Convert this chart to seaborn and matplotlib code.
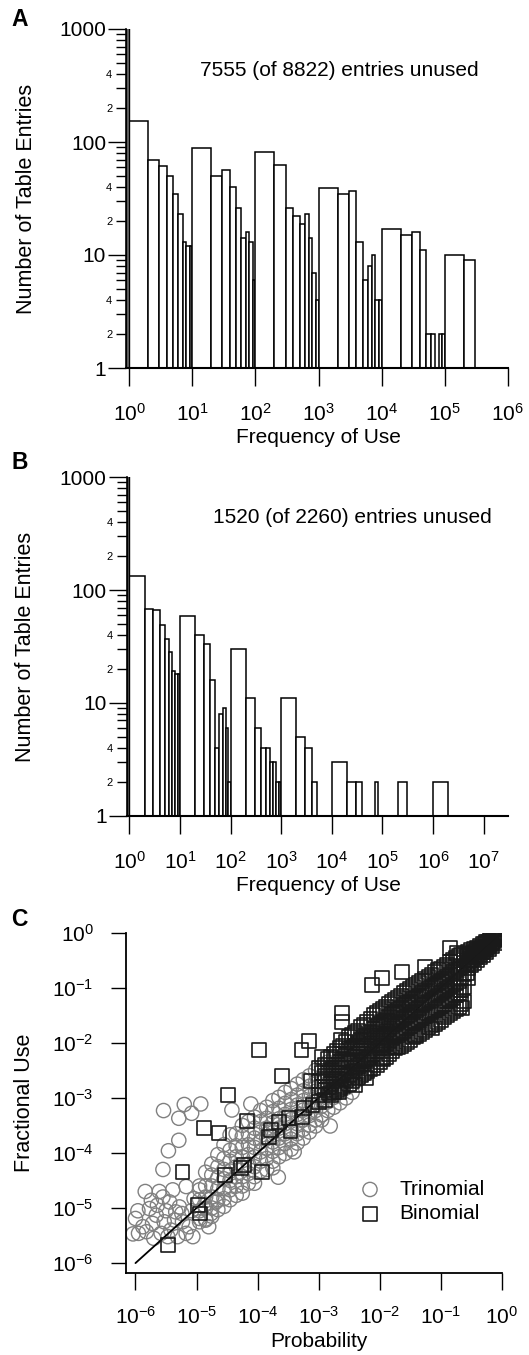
import numpy as np
import pandas as pd
import matplotlib
matplotlib.use("Agg")
import matplotlib.pyplot as plt
import seaborn as sns

sns.set_theme(style="ticks")
plt.rcParams['font.family'] = ['Liberation Sans', 'DejaVu Sans']
plt.rcParams['mathtext.fontset'] = 'custom'
plt.rcParams['mathtext.rm'] = 'Liberation Sans'
plt.rcParams['mathtext.it'] = 'Liberation Sans:italic'
plt.rcParams['mathtext.bf'] = 'Liberation Sans:bold'
plt.rcParams['mathtext.sf'] = 'Liberation Sans'
for k in ['axes.edgecolor', 'xtick.color', 'ytick.color', 'text.color', 'axes.labelcolor']:
    plt.rcParams[k] = 'black'

# ---------------- data ----------------
# each decade is split into linear sub-bins starting at 1..9 x 10^d
sub_bin_starts = [1, 2, 3, 4, 5, 6, 7, 8, 9]

panel_a_counts = [
    154, 69, 61, 50, 35, 23, 13, 12, 12,    # 1 - 10
    89, 50, 56, 40, 26, 14, 16, 13, 6,      # 10 - 1e2
    81, 62, 26, 22, 19, 23, 14, 7, 4,       # 1e2 - 1e3
    39, 35, 37, 13, 6, 8, 10, 4, 4,         # 1e3 - 1e4
    17, 15, 16, 11, 2, 2, 0, 2, 2,          # 1e4 - 1e5
    10, 9, 0, 0, 0, 0, 0, 0, 0,             # 1e5 - 1e6
]
panel_a_unused = 7555
panel_a_total = 8822

panel_b_counts = [
    132, 68, 66, 49, 37, 28, 19, 18, 18,    # 1 - 10
    59, 40, 33, 16, 4, 8, 9, 6, 2,          # 10 - 1e2
    30, 11, 6, 4, 4, 3, 3, 2, 2,            # 1e2 - 1e3
    11, 5, 4, 2, 0, 0, 1, 1, 1,             # 1e3 - 1e4
    3, 2, 2, 0, 1, 1, 2, 0, 1,              # 1e4 - 1e5
    0, 2, 1, 1, 0, 1, 1, 1, 1,              # 1e5 - 1e6
    2, 0, 1, 0, 0, 1, 1, 1, 1,              # 1e6 - 1e7
]
panel_b_unused = 1520
panel_b_total = 2260

hist_y_major = [1, 10, 100, 1000]
hist_y_major_labels = ['1', '10', '100', '1000']
hist_y_minor_label_text = ['2', '', '4', '', '', '', '', '']   # labels for 2..9 in each decade

a_x_exponents = [0, 1, 2, 3, 4, 5, 6]
a_xtick_labels = ['$10^{0}$', '$10^{1}$', '$10^{2}$', '$10^{3}$', '$10^{4}$', '$10^{5}$', '$10^{6}$']
b_x_exponents = [0, 1, 2, 3, 4, 5, 6, 7]
b_xtick_labels = ['$10^{0}$', '$10^{1}$', '$10^{2}$', '$10^{3}$', '$10^{4}$', '$10^{5}$', '$10^{6}$', '$10^{7}$']
c_exponents = [-6, -5, -4, -3, -2, -1, 0]
c_tick_labels = ['$10^{-6}$', '$10^{-5}$', '$10^{-4}$', '$10^{-3}$', '$10^{-2}$', '$10^{-1}$', '$10^{0}$']

# Panel C: (log10 probability, log10 fractional use)
trinomial_scattered = [
    (-6.04, -5.47), (-5.95, -5.46), (-6.00, -5.19), (-5.84, -4.70), (-5.74, -4.86),
    (-5.77, -5.01), (-5.64, -4.95), (-5.66, -5.13), (-5.55, -4.80), (-5.53, -5.25),
    (-5.44, -4.89), (-5.42, -5.40), (-5.34, -5.07), (-5.31, -5.52), (-5.23, -5.25),
    (-5.17, -5.46), (-5.06, -5.52), (-5.12, -5.34), (-5.88, -5.34), (-5.72, -5.28),
    (-5.58, -5.46), (-5.47, -5.52), (-5.82, -5.43), (-5.28, -4.98), (-5.39, -4.67),
    (-5.17, -4.61), (-5.04, -4.83), (-5.70, -5.55), (-5.36, -5.22), (-5.50, -5.05),
    (-5.24, -5.10), (-5.08, -5.05), (-5.96, -5.05), (-5.61, -4.70), (-4.95, -4.67),
    (-4.87, -4.95), (-4.76, -5.10), (-4.85, -5.22), (-4.95, -5.19), (-4.68, -4.89),
    (-4.80, -5.34),
    # outliers above the diagonal
    (-5.54, -3.23), (-5.20, -3.12), (-4.93, -3.11), (-5.29, -3.37), (-5.08, -3.28),
    (-5.29, -3.77), (-5.46, -3.96), (-5.55, -4.30), (-4.42, -3.22), (-4.11, -3.11),
    (-3.66, -4.44), (-3.40, -3.98), (-2.81, -3.51),
]

trinomial_band = [
    (-4.95, [-4.60, -4.85, -5.05, -5.25]),
    (-4.85, [-4.35, -4.60, -4.80, -5.00, -5.20]),
    (-4.75, [-4.20, -4.40, -4.60, -4.80, -5.00, -5.15]),
    (-4.65, [-4.03, -4.25, -4.45, -4.65, -4.85, -5.03]),
    (-4.55, [-3.85, -4.10, -4.30, -4.47, -4.65, -4.83, -4.97]),
    (-4.45, [-3.67, -3.95, -4.15, -4.33, -4.50, -4.67, -4.85]),
    (-4.35, [-3.65, -3.87, -4.07, -4.25, -4.43, -4.60, -4.77]),
    (-4.25, [-3.50, -3.70, -3.90, -4.07, -4.25, -4.43, -4.60, -4.73]),
    (-4.15, [-3.43, -3.65, -3.85, -4.03, -4.20, -4.37, -4.55]),
    (-4.05, [-3.35, -3.55, -3.73, -3.90, -4.07, -4.25, -4.43, -4.55]),
    (-3.95, [-3.23, -3.43, -3.62, -3.80, -3.98, -4.15, -4.33]),
    (-3.85, [-3.17, -3.37, -3.55, -3.73, -3.91, -4.10, -4.30]),
    (-3.75, [-3.05, -3.25, -3.45, -3.63, -3.80, -3.97, -4.15, -4.27]),
    (-3.65, [-2.99, -3.19, -3.38, -3.55, -3.73, -3.90, -4.07]),
    (-3.55, [-2.90, -3.10, -3.30, -3.47, -3.65, -3.83, -4.01]),
    (-3.45, [-2.83, -3.03, -3.21, -3.39, -3.57, -3.75, -3.93]),
    (-3.35, [-2.75, -2.95, -3.13, -3.30, -3.47, -3.65, -3.82]),
    (-3.25, [-2.67, -2.87, -3.05, -3.22, -3.40, -3.57, -3.73]),
    (-3.15, [-2.60, -2.79, -2.97, -3.15, -3.32, -3.49, -3.62]),
    (-3.05, [-2.50, -2.70, -2.88, -3.05, -3.23, -3.40, -3.51]),
    (-2.95, [-2.43, -2.62, -2.80, -2.97, -3.15, -3.31, -3.40]),
    (-2.85, [-2.35, -2.55, -2.73, -2.90, -3.07, -3.23]),
    (-2.75, [-2.27, -2.45, -2.63, -2.81, -2.99, -3.17]),
    (-2.65, [-2.19, -2.37, -2.55, -2.73, -2.90, -3.09]),
    (-2.55, [-2.13, -2.30, -2.47, -2.65, -2.82, -3.00]),
    (-2.45, [-2.05, -2.23, -2.40, -2.57, -2.75, -2.90]),
    (-2.35, [-1.97, -2.15, -2.32, -2.49, -2.67]),
    (-2.25, [-1.90, -2.07, -2.25, -2.42, -2.58]),
    (-2.15, [-1.83, -2.00, -2.17, -2.33, -2.47]),
    (-2.05, [-1.75, -1.93, -2.10, -2.25, -2.40]),
    (-1.95, [-1.67, -1.85, -2.02, -2.17]),
    (-1.85, [-1.60, -1.77, -1.95, -2.10]),
    (-1.70, [-1.45, -1.65, -1.85]),
    (-1.50, [-1.30, -1.50, -1.65]),
    (-1.30, [-1.15, -1.30, -1.45]),
    (-1.10, [-0.95, -1.10, -1.25]),
    (-0.90, [-0.80, -0.90, -1.05]),
    (-0.70, [-0.62, -0.72, -0.85]),
    (-0.50, [-0.45, -0.52, -0.60]),
    (-0.30, [-0.27, -0.32, -0.38]),
    (-0.10, [-0.08, -0.12]),
]

binomial_scattered = [
    (-5.46, -5.67), (-4.97, -4.95), (-4.94, -5.10), (-5.23, -4.34), (-4.87, -3.55),
    (-4.63, -3.64), (-4.48, -2.95), (-4.53, -4.40), (-4.27, -4.28), (-4.22, -4.22),
    (-3.92, -4.34), (-4.17, -3.42), (-3.81, -3.71), (-3.78, -3.58), (-3.65, -3.43),
    (-3.49, -3.37), (-3.46, -3.61), (-3.27, -3.34), (-3.24, -3.19), (-3.10, -3.13),
    (-3.00, -3.07), (-2.89, -3.04), (-2.83, -2.92), (-2.67, -2.89),
    (-3.97, -2.13), (-3.60, -2.60), (-3.28, -2.13), (-3.16, -1.97), (-2.94, -2.25),
    (-3.13, -2.69), (-2.64, -1.95), (-2.61, -1.46), (-2.61, -1.62), (-2.12, -0.95),
    (-1.96, -0.83), (-1.63, -0.71), (-1.25, -0.62), (-0.84, -0.28), (-0.74, -0.37),
    (-0.65, -1.37), (-1.14, -1.74), (-1.42, -1.86), (-1.74, -2.07), (-1.96, -2.28),
    (-2.23, -2.64), (-2.40, -2.76),
]

binomial_band = [
    (-3.00, [-2.45, -2.70, -2.95]),
    (-2.95, [-2.55, -2.80]),
    (-2.90, [-2.40, -2.60, -2.85]),
    (-2.85, [-2.30, -2.55, -2.80]),
    (-2.80, [-2.25, -2.50, -2.75, -2.95]),
    (-2.75, [-2.20, -2.45, -2.70, -2.90]),
    (-2.70, [-2.15, -2.40, -2.65, -2.85]),
    (-2.65, [-2.10, -2.35, -2.60, -2.82]),
    (-2.60, [-2.05, -2.30, -2.55, -2.78]),
    (-2.55, [-1.98, -2.20, -2.45, -2.68]),
    (-2.50, [-1.90, -2.12, -2.35, -2.58, -2.75]),
    (-2.45, [-1.85, -2.10, -2.32, -2.52, -2.70]),
    (-2.40, [-1.82, -2.05, -2.25, -2.45, -2.64]),
    (-2.35, [-1.78, -2.00, -2.20, -2.42, -2.62]),
    (-2.30, [-1.72, -1.95, -2.15, -2.38, -2.58]),
    (-2.25, [-1.68, -1.90, -2.10, -2.34, -2.55]),
    (-2.20, [-1.62, -1.85, -2.05, -2.30, -2.52]),
    (-2.15, [-1.56, -1.80, -2.02, -2.25, -2.48]),
    (-2.10, [-1.50, -1.75, -1.97, -2.20, -2.45]),
    (-2.05, [-1.46, -1.70, -1.92, -2.15, -2.40]),
    (-2.00, [-1.42, -1.65, -1.88, -2.10, -2.35]),
    (-1.95, [-1.38, -1.62, -1.84, -2.06, -2.30]),
    (-1.90, [-1.35, -1.58, -1.80, -2.02, -2.25]),
    (-1.85, [-1.30, -1.53, -1.75, -1.97, -2.20]),
    (-1.80, [-1.25, -1.48, -1.70, -1.92, -2.15]),
    (-1.75, [-1.22, -1.44, -1.66, -1.88, -2.10]),
    (-1.70, [-1.18, -1.40, -1.62, -1.85, -2.07]),
    (-1.65, [-1.14, -1.36, -1.58, -1.82, -2.05]),
    (-1.60, [-1.10, -1.32, -1.55, -1.78, -2.02]),
    (-1.55, [-1.06, -1.28, -1.52, -1.74, -1.98]),
    (-1.50, [-1.02, -1.25, -1.48, -1.70, -1.95]),
    (-1.45, [-0.98, -1.21, -1.44, -1.66, -1.90]),
    (-1.40, [-0.95, -1.18, -1.40, -1.62, -1.88]),
    (-1.35, [-0.92, -1.14, -1.36, -1.58, -1.84]),
    (-1.30, [-0.88, -1.10, -1.32, -1.55, -1.80]),
    (-1.25, [-0.84, -1.06, -1.28, -1.52, -1.76]),
    (-1.20, [-0.80, -1.02, -1.25, -1.48, -1.72]),
    (-1.15, [-0.76, -0.98, -1.22, -1.44, -1.68]),
    (-1.10, [-0.72, -0.95, -1.18, -1.40, -1.65]),
    (-1.05, [-0.68, -0.92, -1.14, -1.36, -1.62]),
    (-1.00, [-0.65, -0.88, -1.10, -1.33, -1.58]),
    (-0.95, [-0.62, -0.84, -1.06, -1.29, -1.54]),
    (-0.90, [-0.58, -0.80, -1.02, -1.25, -1.50]),
    (-0.85, [-0.54, -0.76, -0.98, -1.22, -1.46]),
    (-0.80, [-0.50, -0.72, -0.95, -1.18, -1.42]),
    (-0.75, [-0.46, -0.68, -0.92, -1.14, -1.38]),
    (-0.70, [-0.42, -0.65, -0.88, -1.10, -1.35]),
    (-0.66, [-0.40, -0.60, -0.82, -1.05, -1.30]),
    (-0.62, [-0.38, -0.55, -0.75, -0.98, -1.25]),
    (-0.57, [-0.42, -0.58, -0.74]),
    (-0.55, [-0.35, -0.50, -0.65, -0.82]),
    (-0.52, [-0.38, -0.52]),
    (-0.50, [-0.32, -0.45, -0.58]),
    (-0.47, [-0.36, -0.48]),
    (-0.45, [-0.30, -0.42, -0.55]),
    (-0.42, [-0.33, -0.44]),
    (-0.40, [-0.27, -0.38, -0.50]),
    (-0.37, [-0.29, -0.40]),
    (-0.35, [-0.24, -0.34, -0.45]),
    (-0.32, [-0.25, -0.36]),
    (-0.30, [-0.20, -0.30, -0.40]),
    (-0.27, [-0.21, -0.31]),
    (-0.25, [-0.17, -0.26, -0.35]),
    (-0.22, [-0.17, -0.26]),
    (-0.20, [-0.13, -0.22, -0.30]),
    (-0.17, [-0.12, -0.20]),
    (-0.15, [-0.10, -0.17, -0.24]),
    (-0.12, [-0.08, -0.15]),
    (-0.10, [-0.06, -0.12, -0.18]),
    (-0.07, [-0.05, -0.10]),
    (-0.05, [-0.03, -0.08, -0.12]),
    (-0.03, [-0.02, -0.06]),
    (-0.02, [-0.01, -0.05]),
]

diagonal = [1e-6, 1.0]


def to_frame(scattered, band):
    xs = [p[0] for p in scattered]
    ys = [p[1] for p in scattered]
    for x, col in band:
        for y in col:
            xs.append(x)
            ys.append(y)
    return pd.DataFrame({'prob': np.power(10.0, xs), 'use': np.power(10.0, ys)})


tri_df = to_frame(trinomial_scattered, trinomial_band)
bin_df = to_frame(binomial_scattered, binomial_band)

# ---------------- figure ----------------
W, H = 529, 1355
fig = plt.figure(figsize=(W / 100, H / 100), dpi=100)


def px_axes(left, top, right, bottom):
    return fig.add_axes([left / W, 1 - bottom / H, (right - left) / W, (bottom - top) / H])


axA = px_axes(126.2, 29, 507.7, 368)
axB = px_axes(126.8, 477.3, 508, 815.7)
axC = px_axes(125.7, 932.7, 501.7, 1273)

TICK_FS = 15


def draw_histogram(ax, counts, unused, total, x_exps, x_labels, xmax_exp, note_xy):
    n_dec = len(counts) // len(sub_bin_starts)
    edges = [float(d + np.log10(k)) for d in range(n_dec) for k in sub_bin_starts] + [float(n_dec)]
    centers = [10 ** ((a + b) / 2) for a, b in zip(edges[:-1], edges[1:])]
    hist_df = pd.DataFrame({'freq': centers, 'count': counts})
    sns.histplot(data=hist_df, x='freq', weights='count', bins=edges, log_scale=True, ax=ax,
                 element='bars', fill=True, facecolor='white', edgecolor='black',
                 linewidth=1.1, alpha=1)
    unused_df = pd.DataFrame({'freq': [10 ** -0.025], 'count': [unused]})
    sns.histplot(data=unused_df, x='freq', weights='count', bins=[-0.05, 0.0], log_scale=True,
                 ax=ax, fill=True, facecolor='0.45', edgecolor='black', linewidth=1.0, alpha=1)
    ax.set_yscale('log')
    ax.set_xlim(10 ** -0.05, 10 ** xmax_exp)
    ax.set_ylim(1, 1000)
    ax.set_xticks([10.0 ** e for e in x_exps], x_labels)
    ax.xaxis.set_minor_locator(matplotlib.ticker.NullLocator())
    ax.set_yticks(hist_y_major, hist_y_major_labels)
    minor_ticks, minor_labels = [], []
    for d in range(3):
        for k, lab in zip(sub_bin_starts[1:], hist_y_minor_label_text):
            minor_ticks.append(k * 10 ** d)
            minor_labels.append(lab)
    ax.set_yticks(minor_ticks, minor_labels, minor=True)
    ax.tick_params(axis='x', which='major', direction='out', length=13, width=1.0, pad=12, labelsize=TICK_FS)
    ax.tick_params(axis='y', which='major', direction='out', length=13, width=1.0, pad=1.5, labelsize=TICK_FS)
    ax.tick_params(axis='y', which='minor', direction='out', length=7, width=1.0, pad=3, labelsize=8)
    sns.despine(ax=ax)
    ax.spines['left'].set_linewidth(1.2)
    ax.spines['bottom'].set_linewidth(1.5)
    ax.set_xlabel('Frequency of Use', fontsize=15, va='baseline')
    ax.set_ylabel('Number of Table Entries', fontsize=15.5, va='baseline')
    fig.text(note_xy[0] / W, 1 - note_xy[1] / H, f'{unused} (of {total}) entries unused',
             fontsize=15, ha='left', va='center')


draw_histogram(axA, panel_a_counts, panel_a_unused, panel_a_total,
               a_x_exponents, a_xtick_labels, 6, (200, 70.7))
axA.xaxis.set_label_coords(0.503, -0.222)
axA.yaxis.set_label_coords(-0.248, 0.5)

draw_histogram(axB, panel_b_counts, panel_b_unused, panel_b_total,
               b_x_exponents, b_xtick_labels, 7.48, (213, 518))
axB.xaxis.set_label_coords(0.502, -0.2216)
axB.yaxis.set_label_coords(-0.251, 0.5)

# Panel C
sns.scatterplot(data=tri_df, x='prob', y='use', marker='o', s=105, facecolor='none',
                edgecolor='0.5', linewidth=1.0, label='Trinomial', ax=axC, zorder=2)
sns.lineplot(x=diagonal, y=diagonal, color='black', linewidth=1.3, ax=axC, zorder=3)
sns.scatterplot(data=bin_df, x='prob', y='use', marker='s', s=100, facecolor='none',
                edgecolor='0.1', linewidth=1.2, label='Binomial', ax=axC, zorder=4)
axC.set_xscale('log')
axC.set_yscale('log')
axC.set_xlim(10 ** -6.16, 1)
axC.set_ylim(10 ** -6.18, 1)
axC.set_xticks([10.0 ** e for e in c_exponents], c_tick_labels)
axC.set_yticks([10.0 ** e for e in c_exponents], c_tick_labels)
axC.xaxis.set_minor_locator(matplotlib.ticker.NullLocator())
axC.yaxis.set_minor_locator(matplotlib.ticker.NullLocator())
axC.tick_params(axis='x', direction='out', length=12, width=1.0, pad=12, labelsize=TICK_FS)
axC.tick_params(axis='y', direction='out', length=11, width=1.0, pad=12, labelsize=TICK_FS)
sns.despine(ax=axC)
axC.spines['left'].set_linewidth(1.3)
axC.spines['bottom'].set_linewidth(1.3)
axC.set_xlabel('Probability', fontsize=15, va='baseline')
axC.set_ylabel('Fractional Use', fontsize=15.5, va='baseline')
axC.xaxis.set_label_coords(0.513, -0.2166)
axC.yaxis.set_label_coords(-0.2545, 0.5)
handles, labels = axC.get_legend_handles_labels()
axC.legend(handles, labels, loc='center left', bbox_to_anchor=(0.622, 0.21), frameon=False,
           prop={'size': 15}, handlelength=1.0, handletextpad=0.9,
           labelspacing=0.25, borderpad=0, borderaxespad=0)

# panel letters
for letter, ypx in [('A', 19.5), ('B', 462.5), ('C', 919)]:
    fig.text(19.5 / W, 1 - ypx / H, letter, fontsize=16.5, fontweight='bold',
             ha='center', va='center')

fig.savefig('out.png', dpi=100)
